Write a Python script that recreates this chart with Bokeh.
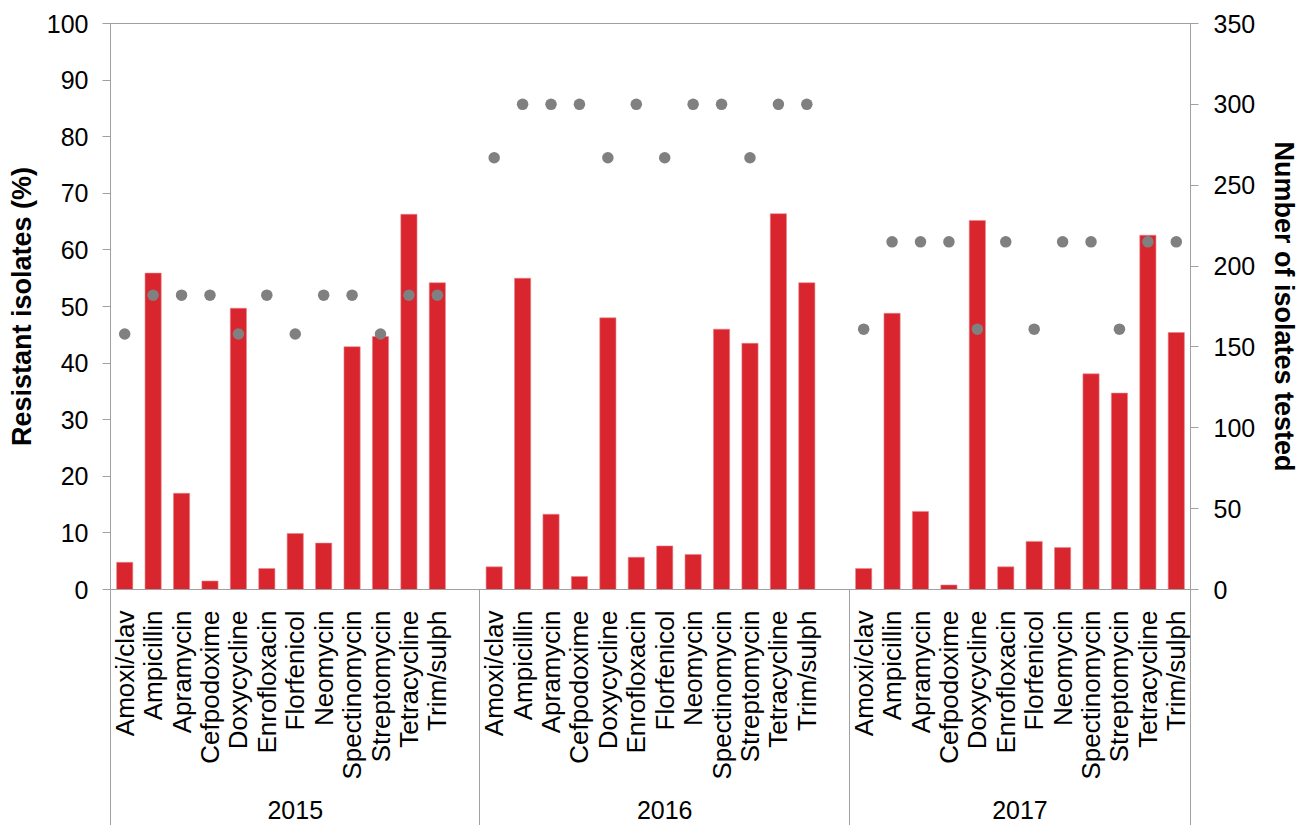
import math
from bokeh.plotting import figure
from bokeh.models import Range1d, LinearAxis, FixedTicker, ColumnDataSource
from bokeh.embed import file_html
from bokeh.resources import INLINE

# ---------------- data ----------------
years = ["2015", "2016", "2017"]
drugs = ["Amoxi/clav", "Ampicillin", "Apramycin", "Cefpodoxime", "Doxycycline",
         "Enrofloxacin", "Florfenicol", "Neomycin", "Spectinomycin", "Streptomycin",
         "Tetracycline", "Trim/sulph"]
resistant_2015 = [4.8, 55.9, 17.0, 1.5, 49.7, 3.7, 9.9, 8.2, 42.9, 44.7, 66.3, 54.2]
resistant_2016 = [4.0, 55.0, 13.3, 2.3, 48.0, 5.7, 7.7, 6.2, 46.0, 43.5, 66.4, 54.2]
resistant_2017 = [3.7, 48.8, 13.8, 0.8, 65.2, 4.0, 8.5, 7.4, 38.1, 34.7, 62.6, 45.4]
tested_2015 = [158, 182, 182, 182, 158, 182, 158, 182, 182, 158, 182, 182]
tested_2016 = [267, 300, 300, 300, 267, 300, 267, 300, 300, 267, 300, 300]
tested_2017 = [161, 215, 215, 215, 161, 215, 161, 215, 215, 161, 215, 215]
left_ticks = [0, 10, 20, 30, 40, 50, 60, 70, 80, 90, 100]
right_ticks = [0, 50, 100, 150, 200, 250, 300, 350]

resistant = [resistant_2015, resistant_2016, resistant_2017]
tested = [tested_2015, tested_2016, tested_2017]

# ---------------- layout of categories (Excel-like: blank slot after each group) ----
slots_per_group = len(drugs) + 1
xs, res_vals, n_vals, labels = [], [], [], {}
for g, yr in enumerate(years):
    for i, d in enumerate(drugs):
        x = g * slots_per_group + i
        xs.append(x)
        res_vals.append(resistant[g][i])
        n_vals.append(tested[g][i])
        labels[x] = d
x_start = -0.5
x_end = xs[-1] + 0.5
bounds = [x_start] + [g * slots_per_group - 0.5 for g in range(1, len(years))] + [x_end]
group_centers = [(bounds[g] + bounds[g + 1]) / 2 for g in range(len(years))]
year_labels = {c: yr for c, yr in zip(group_centers, years)}

src = ColumnDataSource(dict(x=xs, res=res_vals, n=n_vals))

AXIS = "#A0A0A0"
FONT = "Liberation Sans"
SEP_LEN = 240

p = figure(width=1306, height=825, output_backend="svg", toolbar_location=None,
           x_range=Range1d(x_start, x_end), y_range=Range1d(0, 100),
           min_border_left=110, min_border_right=116, min_border_top=23,
           min_border_bottom=236, x_axis_type=None, y_axis_type=None)
p.extra_y_ranges = {"n": Range1d(0, 350)}
p.xgrid.visible = False
p.ygrid.visible = False
p.outline_line_color = AXIS
p.outline_line_width = 1
p.background_fill_color = "white"
p.border_fill_color = "white"

p.vbar(x="x", top="res", width=0.57, source=src, fill_color="#D8252E",
       line_color="#E9868B", line_width=0.6)
p.scatter(x="x", y="n", source=src, y_range_name="n", size=11.5,
          fill_color="#808080", line_color=None)

# left axis
ly = LinearAxis(ticker=FixedTicker(ticks=left_ticks, minor_ticks=[]),
                axis_label="Resistant isolates (%)")
# right axis
ry = LinearAxis(y_range_name="n", ticker=FixedTicker(ticks=right_ticks, minor_ticks=[]),
                axis_label="Number of isolates tested")
for ax in (ly, ry):
    ax.axis_line_color = AXIS
    ax.major_tick_line_color = AXIS
    ax.major_tick_out = 8
    ax.major_tick_in = 0
    ax.minor_tick_line_color = None
    ax.major_label_text_font = FONT
    ax.major_label_text_font_size = "25px"
    ax.major_label_text_color = "black"
    ax.axis_label_text_font = FONT
    ax.axis_label_text_font_size = "27px"
    ax.axis_label_text_font_style = "bold"
    ax.axis_label_text_color = "black"
ly.major_label_standoff = 14
ly.axis_label_standoff = 7
ry.major_label_standoff = 15
ry.axis_label_standoff = 11
p.add_layout(ly, "left")
p.add_layout(ry, "right")

# bottom category axis, group separators drawn as long minor ticks
bx = LinearAxis(ticker=FixedTicker(ticks=xs, minor_ticks=bounds))
bx.major_label_overrides = labels
bx.major_label_orientation = math.pi / 2
bx.major_label_text_font = FONT
bx.major_label_text_font_size = "26px"
bx.major_label_text_color = "black"
bx.major_label_standoff = 21 - SEP_LEN
bx.major_tick_line_color = None
bx.major_tick_out = 0
bx.major_tick_in = 0
bx.minor_tick_line_color = AXIS
bx.minor_tick_out = SEP_LEN
bx.minor_tick_in = 0
bx.axis_line_color = AXIS
p.add_layout(bx, "below")

# year (group) axis below the category labels
gx = LinearAxis(ticker=FixedTicker(ticks=group_centers, minor_ticks=[]))
gx.major_label_overrides = year_labels
gx.major_label_text_font = FONT
gx.major_label_text_font_size = "25px"
gx.major_label_text_color = "black"
gx.major_label_standoff = 12
gx.major_tick_line_color = None
gx.minor_tick_line_color = None
gx.axis_line_color = None
p.add_layout(gx, "below")

open("out.html", "w").write(file_html(p, INLINE))
